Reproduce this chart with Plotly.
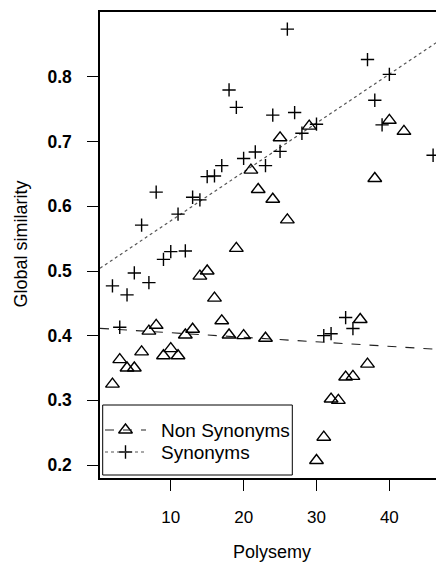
import plotly.graph_objects as go

# Non Synonyms (triangles)
non_x = [2, 3, 4, 5, 6, 7, 8, 9, 10, 11, 12, 13, 14, 15, 16, 17, 18, 19, 20, 21,
         22, 23, 24, 25, 26, 29, 30, 31, 32, 33, 34, 35, 36, 37, 38, 40, 42]
non_y = [0.325, 0.363, 0.350, 0.350, 0.375, 0.407, 0.416, 0.369, 0.380, 0.369,
         0.401, 0.410, 0.492, 0.500, 0.458, 0.423, 0.401, 0.535, 0.400, 0.656,
         0.626, 0.396, 0.611, 0.706, 0.579, 0.724, 0.207, 0.243, 0.302, 0.300,
         0.336, 0.337, 0.425, 0.356, 0.643, 0.733, 0.716]

# Synonyms (plus)
syn_x = [2, 3, 4, 5, 6, 7, 8, 9, 10, 11, 12, 13, 14, 15, 16, 17, 18, 19, 20, 21.6,
         23, 24, 25, 26, 27, 28, 30, 31, 32, 34, 35, 37, 38, 39, 40, 46]
syn_y = [0.477, 0.413, 0.463, 0.497, 0.571, 0.482, 0.622, 0.518, 0.530, 0.588,
         0.531, 0.614, 0.610, 0.646, 0.647, 0.663, 0.780, 0.753, 0.674, 0.684,
         0.663, 0.741, 0.685, 0.874, 0.745, 0.713, 0.727, 0.400, 0.403, 0.428,
         0.411, 0.827, 0.764, 0.726, 0.804, 0.679]

# Fitted lines (intercept, slope)
non_fit = (0.4115, -0.0007)
syn_fit = (0.502, 0.00756)

series_names = ["Non Synonyms", "Synonyms"]

x_range = [0.29, 46.4]
y_range = [0.1799, 0.9005]
x_ticks = [10, 20, 30, 40]
y_ticks = [0.2, 0.3, 0.4, 0.5, 0.6, 0.7, 0.8]

FONT = "Liberation Sans, Arial, sans-serif"
W, H = 436, 576
ML, MT, MB = 100, 12, 98
PW, PH = W - ML, H - MT - MB


def px(xp):
    return (xp - ML) / PW


def py(yp):
    return (H - MB - yp) / PH


NON_STYLE = dict(line=dict(color="#222", width=1.1, dash="dash"),
                 marker=dict(symbol="triangle-up-open", size=12, color="black",
                             line=dict(width=1.4, color="black")))
SYN_STYLE = dict(line=dict(color="#555", width=1.2, dash="dot"),
                 marker=dict(symbol="cross-thin-open", size=9.5, color="black",
                             line=dict(width=1.4, color="black")))

fig = go.Figure()

lx = [x_range[0], 48]
fig.add_trace(go.Scatter(x=lx, y=[non_fit[0] + non_fit[1] * v for v in lx], mode="lines",
                         line=NON_STYLE["line"], showlegend=False, hoverinfo="skip"))
fig.add_trace(go.Scatter(x=lx, y=[syn_fit[0] + syn_fit[1] * v for v in lx], mode="lines",
                         line=SYN_STYLE["line"], showlegend=False, hoverinfo="skip"))

fig.add_trace(go.Scatter(x=non_x, y=non_y, mode="markers", showlegend=False,
                         marker=NON_STYLE["marker"], name=series_names[0]))
fig.add_trace(go.Scatter(x=syn_x, y=syn_y, mode="markers", showlegend=False,
                         marker=SYN_STYLE["marker"], name=series_names[1]))

# ---- hand-drawn legend (R style) ----
box = dict(x0=px(102.7), x1=px(292.3), y0=py(475), y1=py(405))
row_y = [430, 452]
shapes = [dict(type="rect", xref="paper", yref="paper", **box,
               line=dict(color="black", width=1), fillcolor="rgba(0,0,0,0)", layer="above")]
annotations = []
for name, ry, sty in zip(series_names, row_y, [NON_STYLE, SYN_STYLE]):
    shapes.append(dict(type="line", xref="paper", yref="paper", x0=px(105), x1=px(146),
                       y0=py(ry), y1=py(ry), line=sty["line"], layer="above"))
    annotations.append(dict(text=name, xref="paper", yref="paper", x=px(159), y=py(ry),
                            xanchor="left", yanchor="middle", showarrow=False,
                            font=dict(size=19, family=FONT)))
for ry, sty in zip(row_y, [NON_STYLE, SYN_STYLE]):
    fig.add_trace(go.Scatter(x=[px(125.5)], y=[py(ry)], xaxis="x2", yaxis="y2",
                             mode="markers", marker=sty["marker"], showlegend=False,
                             hoverinfo="skip", cliponaxis=False))

annotations += [
    dict(text="Polysemy", xref="paper", yref="paper", x=px(272), y=py(552),
         showarrow=False, font=dict(size=18, family=FONT), xanchor="center", yanchor="middle"),
    dict(text="Global similarity", xref="paper", yref="paper", x=px(20), y=py(244.5),
         textangle=-90, showarrow=False, font=dict(size=18, family=FONT),
         xanchor="center", yanchor="middle"),
]

fig.update_layout(
    width=W, height=H,
    margin=dict(l=ML, r=0, t=MT, b=MB),
    paper_bgcolor="white", plot_bgcolor="white",
    font=dict(family=FONT, size=17, color="black"),
    showlegend=False,
    xaxis=dict(range=x_range, tickvals=x_ticks, showgrid=False, zeroline=False,
               showline=True, linecolor="black", linewidth=1.5, mirror=True,
               ticks="outside", ticklen=11, tickwidth=1, tickcolor="black",
               ticklabelstandoff=12, tickfont=dict(size=17, family=FONT)),
    yaxis=dict(range=y_range, tickvals=y_ticks, tickformat=".1f", showgrid=False,
               zeroline=False, showline=True, linecolor="black", linewidth=1.5,
               ticks="outside", ticklen=11, tickwidth=1, tickcolor="black",
               ticklabelstandoff=12, tickfont=dict(size=17.5, family=FONT, weight="bold")),
    xaxis2=dict(overlaying="x", range=[0, 1], visible=False, fixedrange=True),
    yaxis2=dict(overlaying="y", range=[0, 1], visible=False, fixedrange=True),
    shapes=shapes,
    annotations=annotations,
)

fig.write_html("out.html")
